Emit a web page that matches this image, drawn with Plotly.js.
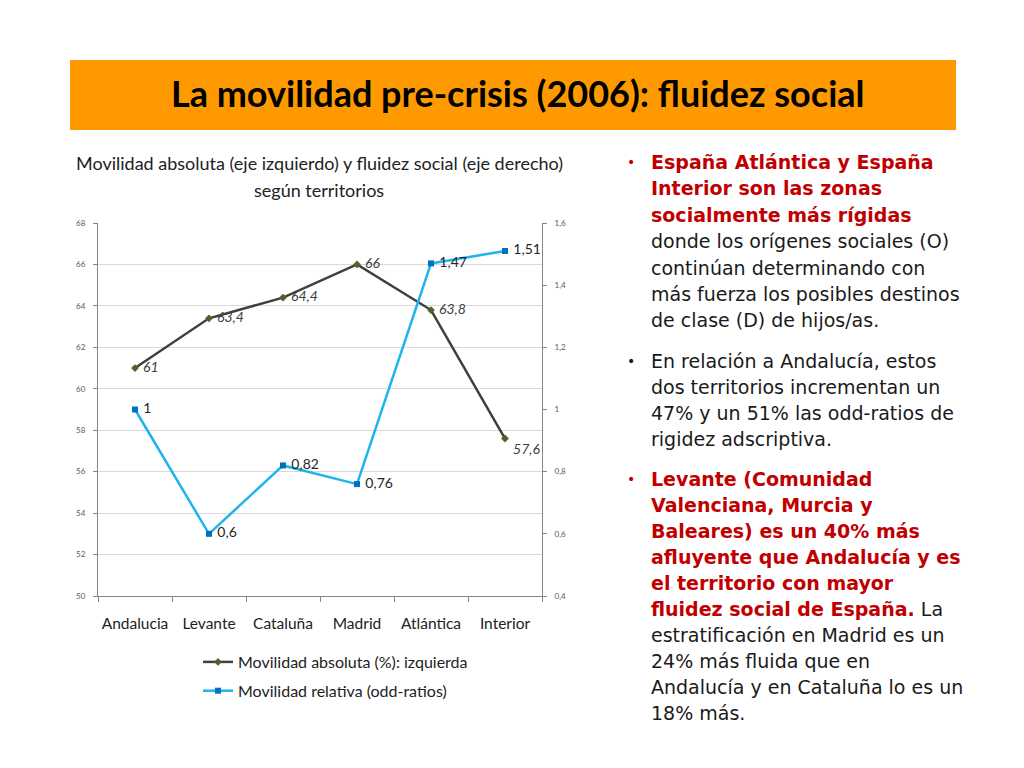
<!DOCTYPE html>
<html>
<head>
<meta charset="utf-8">
<script src="https://cdn.plot.ly/plotly-3.0.1.min.js"></script>
<style>html,body{margin:0;padding:0;background:#fff;}#chart{width:1024px;height:768px;}</style>
</head>
<body>
<div id="chart"></div>
<script>
// ---- data ----
const territorios = ["Andalucia", "Levante", "Cataluña", "Madrid", "Atlántica", "Interior"];
const movilidadAbsoluta = [61, 63.4, 64.4, 66, 63.8, 57.6];
const movilidadRelativa = [1, 0.6, 0.82, 0.76, 1.47, 1.51];
const serieAbsNombre = "Movilidad absoluta (%): izquierda";
const serieRelNombre = "Movilidad relativa (odd-ratios)";
const leftTicks = [50, 52, 54, 56, 58, 60, 62, 64, 66, 68];
const rightTicks = [0.4, 0.6, 0.8, 1, 1.2, 1.4, 1.6];

const fmt = v => '\u00a0' + String(v).replace('.', ',');
const W = 1024, H = 768;
const px = x => x / W;
const py = y => 1 - y / H;

const traceAbs = {
  x: territorios, y: movilidadAbsoluta, name: serieAbsNombre,
  type: 'scatter', mode: 'lines+markers+text',
  line: {color: '#404040', width: 2.5},
  marker: {symbol: 'diamond', size: 6, color: '#4F6228'},
  text: movilidadAbsoluta.map(fmt),
  textposition: ['middle right','middle right','middle right','middle right','middle right','bottom right'],
  textfont: {family: 'Lato, sans-serif', size: 14, color: '#404040', style: 'italic'},
  legendgroup: 'a', cliponaxis: false, hoverinfo: 'skip'
};
const traceRel = {
  x: territorios, y: movilidadRelativa, name: serieRelNombre, yaxis: 'y2',
  type: 'scatter', mode: 'lines+markers+text',
  line: {color: '#1EB4EC', width: 2.5},
  marker: {symbol: 'square', size: 6, color: '#0070C0'},
  text: movilidadRelativa.map(fmt),
  textposition: 'middle right',
  textfont: {family: 'Lato, sans-serif', size: 14, color: '#262626'},
  legendgroup: 'b', cliponaxis: false, hoverinfo: 'skip'
};

const tickFont = {family: 'Lato, sans-serif', size: 8, color: '#595959'};
const bodyFont = 'DejaVu Sans, Verdana, sans-serif';
const red = '#C00000';
const dark = '#1a1a1a';

const annotations = [];
function addText(text, x, y, opts) {
  annotations.push(Object.assign({
    xref: 'paper', yref: 'paper', x: px(x), y: py(y), text: text,
    showarrow: false, xanchor: 'left', yanchor: 'middle',
    font: {family: bodyFont, size: 19, color: dark}
  }, opts || {}));
}
// banner title
addText('<b>La movilidad pre-crisis (2006): fluidez social</b>', 518, 93,
  {xanchor: 'center', font: {family: 'Lato, sans-serif', size: 36, color: '#000'}});
// chart title
addText('Movilidad absoluta (eje izquierdo) y fluidez social (eje derecho)', 319, 163,
  {xanchor: 'center', font: {family: 'Lato, sans-serif', size: 18, color: '#222'}});
addText('según territorios', 319, 190,
  {xanchor: 'center', font: {family: 'Lato, sans-serif', size: 18, color: '#222'}});

// right-hand bullet text
const L = 649;
const bold = s => '<b>' + s + '</b>';
const bullets = [
  [625, 162, red], [625, 361, dark], [625, 479, red]
];
bullets.forEach(b => addText('•', b[0], b[1], {font: {family: bodyFont, size: 14, color: b[2]}}));
const redFont = {family: bodyFont, size: 19, color: red};
[
  ['España Atlántica y España', 162, true],
  ['Interior son las zonas', 188, true],
  ['socialmente más rígidas', 215, true],
  ['donde los orígenes sociales (O)', 241, false],
  ['continúan determinando con', 268, false],
  ['más fuerza los posibles destinos', 294, false],
  ['de clase (D) de hijos/as.', 320, false],
  ['En relación a Andalucía, estos', 361, false],
  ['dos territorios incrementan un', 387, false],
  ['47% y un 51% las odd-ratios de', 413, false],
  ['rigidez adscriptiva.', 439, false],
  ['Levante (Comunidad', 479, true],
  ['Valenciana, Murcia y', 505, true],
  ['Baleares) es un 40% más', 531, true],
  ['afluyente que Andalucía y es', 557, true],
  ['el territorio con mayor', 583, true],
  ['<span style="color:' + red + '"><b>fluidez social de España.</b></span> La', 609, false],
  ['estratificación en Madrid es un', 635, false],
  ['24% más fluida que en', 661, false],
  ['Andalucía y en Cataluña lo es un', 687, false],
  ['18% más.', 713, false]
].forEach(l => {
  if (l[2]) addText(bold(l[0]), L, l[1], {font: redFont});
  else addText(l[0], L, l[1]);
});

const layout = {
  width: W, height: H,
  margin: {l: 0, r: 0, t: 0, b: 0},
  paper_bgcolor: '#fff', plot_bgcolor: '#fff',
  separators: ',.',
  showlegend: true,
  legend: {
    x: px(198), y: py(645), xanchor: 'left', yanchor: 'top',
    font: {family: 'Lato, sans-serif', size: 16, color: '#222'},
    itemwidth: 30, tracegroupgap: 5, bgcolor: 'rgba(0,0,0,0)'
  },
  xaxis: {
    domain: [px(98), px(542)],
    type: 'category', range: [-0.5, 5.5],
    tickson: 'boundaries', ticks: 'outside', ticklen: 5, tickcolor: '#868686',
    showline: true, linecolor: '#868686', linewidth: 1,
    showgrid: false, zeroline: false, ticklabelstandoff: 13, tickangle: 0,
    tickfont: {family: 'Lato, sans-serif', size: 15.5, color: '#222'},
    fixedrange: true
  },
  yaxis: {
    domain: [py(596), py(223)],
    range: [50, 68], tickvals: leftTicks,
    ticks: 'outside', ticklen: 4, tickcolor: '#868686',
    showline: true, linecolor: '#868686', linewidth: 1,
    showgrid: true, gridcolor: '#D9D9D9', gridwidth: 1, zeroline: false,
    tickfont: tickFont, fixedrange: true, ticklabelstandoff: 6
  },
  yaxis2: {
    overlaying: 'y', side: 'right', anchor: 'x',
    range: [0.4, 1.6], tickvals: rightTicks,
    ticks: 'outside', ticklen: 4, tickcolor: '#868686',
    showline: true, linecolor: '#868686', linewidth: 1,
    showgrid: false, zeroline: false,
    tickfont: tickFont, fixedrange: true, ticklabelstandoff: 6
  },
  shapes: [{
    type: 'rect', xref: 'paper', yref: 'paper',
    x0: px(70), x1: px(956), y0: py(130), y1: py(60),
    fillcolor: '#FE9A00', line: {width: 0}, layer: 'below'
  }],
  annotations: annotations
};

Plotly.newPlot('chart', [traceAbs, traceRel], layout, {displayModeBar: false, staticPlot: true});
</script>
</body>
</html>
